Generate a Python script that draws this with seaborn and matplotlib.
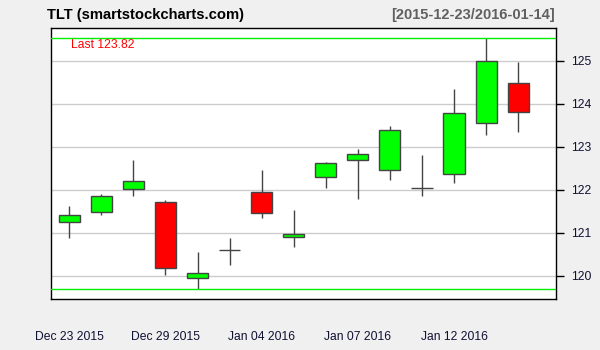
import matplotlib
matplotlib.use("Agg")
import matplotlib.pyplot as plt
import seaborn as sns
import pandas as pd

dates = ["Dec 23 2015", "Dec 24 2015", "Dec 28 2015", "Dec 29 2015", "Dec 30 2015",
         "Dec 31 2015", "Jan 04 2016", "Jan 05 2016", "Jan 06 2016", "Jan 07 2016",
         "Jan 08 2016", "Jan 11 2016", "Jan 12 2016", "Jan 13 2016", "Jan 14 2016"]
opens = [121.24, 121.47, 122.01, 121.71, 119.94, 120.60, 121.94, 120.89, 122.30, 122.68,
         122.45, 122.03, 122.36, 123.54, 124.47]
highs = [121.62, 121.90, 122.69, 121.75, 120.55, 120.88, 122.46, 121.53, 122.64, 122.95,
         123.48, 122.80, 124.34, 125.53, 124.97]
lows = [120.88, 121.40, 121.86, 120.02, 119.69, 120.26, 121.33, 120.67, 122.05, 121.79,
        122.23, 121.86, 122.16, 123.28, 123.35]
closes = [121.40, 121.85, 122.20, 120.18, 120.06, 120.60, 121.45, 120.96, 122.61, 122.82,
          123.38, 122.05, 123.78, 124.99, 123.81]
label_dates = ["Dec 23 2015", "Dec 29 2015", "Jan 04 2016", "Jan 07 2016", "Jan 12 2016"]
y_ticks = [120, 121, 122, 123, 124, 125]
last_value = 123.82

df = pd.DataFrame({"date": dates, "open": opens, "high": highs, "low": lows, "close": closes})
df["x"] = range(len(df))
df["bottom"] = df[["open", "close"]].min(axis=1)
df["height"] = (df["close"] - df["open"]).abs()
df["color"] = ["#00FF00" if c >= o else "#FF0000" for o, c in zip(df["open"], df["close"])]

sns.set_style("white")
plt.rcParams["font.family"] = ["Liberation Sans", "DejaVu Sans"]

fig = plt.figure(figsize=(6, 3.5), dpi=100, facecolor="#F0F0F0")
ax = fig.add_axes([51 / 600, 51 / 350, 505 / 600, 270.7 / 350])
ax.set_facecolor("white")

for yv in y_ticks:
    ax.axhline(yv, color="#CCCCCC", lw=1.0, zorder=0)

ax.vlines(df["x"], df["low"], df["high"], color="#444444", lw=1.0, zorder=2)
ax.bar(df["x"], df["height"], bottom=df["bottom"], width=0.66, color=df["color"],
       edgecolor="#444444", linewidth=1.0, zorder=3)

ax.axhline(max(highs), color="#00EE00", lw=1.0, zorder=4)
ax.axhline(min(lows), color="#00EE00", lw=1.0, zorder=4)

ax.set_xlim(-0.57, 15.18)
ax.set_ylim(119.458, 125.753)

ax.set_xticks(df["x"])
ax.set_xticklabels([d if d in label_dates else "" for d in dates], fontsize=8.7,
                   color="#111133")
ax.tick_params(axis="x", length=6, width=1, color="black", pad=17, direction="out")

ax.yaxis.tick_right()
ax.set_yticks(y_ticks)
ax.set_yticklabels([str(v) for v in y_ticks], fontsize=8.7, color="#111133")
ax.tick_params(axis="y", length=6, width=1, color="black", pad=5, direction="out")

for s in ax.spines.values():
    s.set_visible(True)
    s.set_color("black")
    s.set_linewidth(1.0)

ax.text(0.04, 1 - (44.5 - 28.3) / 270.7, f"Last {last_value:.2f}", transform=ax.transAxes,
        color="#FF0000", fontsize=8.7, va="center", ha="left")

fig.text(47 / 600, 1 - 15 / 350, "TLT (smartstockcharts.com)", fontsize=10.6,
         fontweight="bold", va="center", ha="left", color="black")
fig.text(555 / 600, 1 - 15 / 350, "[2015-12-23/2016-01-14]", fontsize=10.5,
         fontweight="bold", va="center", ha="right", color="#606060")

fig.savefig("out.png", dpi=100, facecolor=fig.get_facecolor())
